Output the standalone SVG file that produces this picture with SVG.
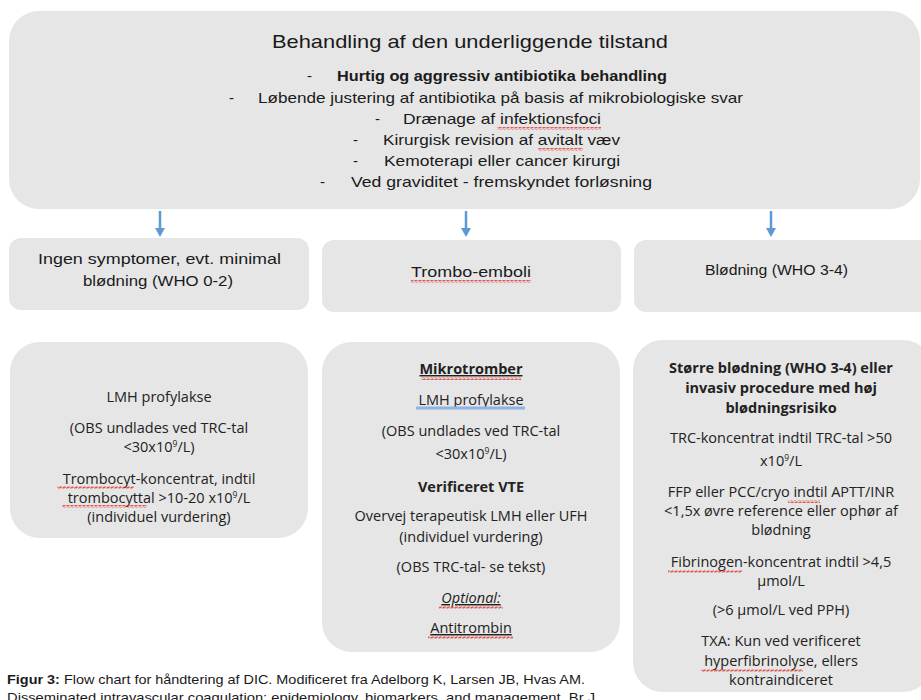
<svg xmlns="http://www.w3.org/2000/svg" width="921" height="700" viewBox="0 0 921 700">
<style>
.box{fill:#e6e6e6;}
.t{font-family:"Liberation Sans",Arial,sans-serif;fill:#1a1a1a;}
.o{font-family:"Open Sans","Noto Sans",sans-serif;font-size:14.5px;fill:#222;text-anchor:middle;}
.b{font-weight:bold;}
.sup{font-size:8.5px;}
.wv{fill:url(#wavy);}
.arrow{stroke:#5b9bd5;stroke-width:2.5;fill:none;}
</style>
<defs>
<pattern id="wavy" width="4" height="3" patternUnits="userSpaceOnUse">
<path d="M0 2.5 L1 0.5 L3 2.5 L4 0.5" stroke="#e0302a" stroke-width="0.8" fill="none"/>
</pattern>
</defs>

<g id="top">
<rect class="box" x="9" y="11" width="911" height="198" rx="30"/>
<text class="t" x="272" y="48" font-size="19" textLength="396" lengthAdjust="spacingAndGlyphs">Behandling af den underliggende tilstand</text>
<text class="t" x="307" y="81" font-size="15">-</text>
<text class="t b" x="337" y="81" font-size="15" textLength="330" lengthAdjust="spacingAndGlyphs">Hurtig og aggressiv antibiotika behandling</text>
<text class="t" x="229" y="103" font-size="15">-</text>
<text class="t" x="258" y="103" font-size="15" textLength="485" lengthAdjust="spacingAndGlyphs">Løbende justering af antibiotika på basis af mikrobiologiske svar</text>
<text class="t" x="375" y="124" font-size="15">-</text>
<text class="t" x="403" y="124" font-size="15" textLength="198" lengthAdjust="spacingAndGlyphs">Drænage af infektionsfoci</text>
<rect class="wv" x="497" y="127" width="104" height="3"/>
<text class="t" x="353" y="145" font-size="15">-</text>
<text class="t" x="383" y="145" font-size="15" textLength="237" lengthAdjust="spacingAndGlyphs">Kirurgisk revision af avitalt væv</text>
<rect class="wv" x="538" y="148" width="45" height="3"/>
<text class="t" x="353" y="166" font-size="15">-</text>
<text class="t" x="384" y="166" font-size="15" textLength="236" lengthAdjust="spacingAndGlyphs">Kemoterapi eller cancer kirurgi</text>
<text class="t" x="320" y="187" font-size="15">-</text>
<text class="t" x="351" y="187" font-size="15" textLength="301" lengthAdjust="spacingAndGlyphs">Ved graviditet - fremskyndet forløsning</text>
</g>

<g id="connectors">
<line class="arrow" x1="160" y1="211" x2="160" y2="229"/>
<polygon points="155,228 165,228 160,237" fill="#5b9bd5"/>
<line class="arrow" x1="466" y1="211" x2="466" y2="229"/>
<polygon points="461,228 471,228 466,237" fill="#5b9bd5"/>
<line class="arrow" x1="771" y1="211" x2="771" y2="229"/>
<polygon points="766,228 776,228 771,237" fill="#5b9bd5"/>
</g>

<g id="mid1">
<rect class="box" x="9" y="238" width="300" height="72" rx="12"/>
<text class="t" x="38" y="264" font-size="15" textLength="243" lengthAdjust="spacingAndGlyphs">Ingen symptomer, evt.  minimal</text>
<text class="t" x="83" y="286" font-size="15" textLength="150" lengthAdjust="spacingAndGlyphs">blødning (WHO 0-2)</text>
</g>
<g id="mid2">
<rect class="box" x="322" y="240" width="299" height="72" rx="12"/>
<text class="t" x="411" y="277" font-size="15" textLength="120" lengthAdjust="spacingAndGlyphs">Trombo-emboli</text>
<rect class="wv" x="411" y="280" width="120" height="3"/>
</g>
<g id="mid3">
<rect class="box" x="634" y="240" width="300" height="72" rx="12"/>
<text class="t" x="705" y="275" font-size="15" textLength="143" lengthAdjust="spacingAndGlyphs">Blødning (WHO 3-4)</text>
</g>

<g id="low1">
<rect class="box" x="10" y="342" width="298" height="196" rx="30"/>
<text class="o" x="159" y="402">LMH profylakse</text>
<text class="o" x="159" y="433">(OBS undlades ved TRC-tal</text>
<text class="o" x="159" y="452">&lt;30x10<tspan class="sup" dy="-5">9</tspan><tspan dy="5">/L)</tspan></text>
<text class="o" x="159" y="484">Trombocyt-koncentrat, indtil</text>
<rect class="wv" x="57" y="486" width="77" height="3"/>
<text class="o" x="159" y="503">trombocyttal &gt;10-20 x10<tspan class="sup" dy="-5">9</tspan><tspan dy="5">/L</tspan></text>
<rect class="wv" x="62" y="505" width="85" height="3"/>
<text class="o" x="159" y="522">(individuel vurdering)</text>
</g>

<g id="low2">
<rect class="box" x="322" y="342" width="298" height="310" rx="30"/>
<text class="o b" x="471" y="374" text-decoration="underline">Mikrotromber</text>
<rect class="wv" x="421" y="377" width="100" height="3"/>
<text class="o" x="471" y="405">LMH profylakse</text>
<line x1="416" y1="408" x2="525" y2="408" stroke="#8eb4e3" stroke-width="3"/>
<text class="o" x="471" y="436">(OBS undlades ved TRC-tal</text>
<text class="o" x="471" y="459">&lt;30x10<tspan class="sup" dy="-5">9</tspan><tspan dy="5">/L)</tspan></text>
<text class="o b" x="471" y="492">Verificeret VTE</text>
<text class="o" x="471" y="521">Overvej terapeutisk LMH eller UFH</text>
<text class="o" x="471" y="542">(individuel vurdering)</text>
<text class="o" x="471" y="572">(OBS TRC-tal-  se tekst)</text>
<text class="o" x="471" y="603" font-style="italic" text-decoration="underline">Optional:</text>
<rect class="wv" x="439" y="606" width="64" height="3"/>
<text class="o" x="471" y="633" text-decoration="underline">Antitrombin</text>
<rect class="wv" x="428" y="636" width="85" height="3"/>
</g>

<g id="low3">
<rect class="box" x="633" y="340" width="300" height="352" rx="30"/>
<text class="o b" x="781" y="373">Større blødning  (WHO 3-4) eller</text>
<text class="o b" x="781" y="393">invasiv  procedure med høj</text>
<text class="o b" x="781" y="413">blødningsrisiko</text>
<text class="o" x="781" y="443">TRC-koncentrat indtil TRC-tal  &gt;50</text>
<text class="o" x="781" y="466">x10<tspan class="sup" dy="-5">9</tspan><tspan dy="5">/L</tspan></text>
<text class="o" x="781" y="497">FFP eller PCC/cryo indtil APTT/INR</text>
<rect class="wv" x="788" y="500" width="32" height="3"/>
<text class="o" x="781" y="516">&lt;1,5x øvre reference eller ophør af</text>
<text class="o" x="781" y="535">blødning</text>
<text class="o" x="781" y="567">Fibrinogen-koncentrat indtil &gt;4,5</text>
<rect class="wv" x="668" y="570" width="74" height="3"/>
<text class="o" x="781" y="586">µmol/L</text>
<text class="o" x="781" y="615">(&gt;6 µmol/L ved PPH)</text>
<text class="o" x="781" y="646">TXA: Kun ved verificeret</text>
<text class="o" x="781" y="666">hyperfibrinolyse, ellers</text>
<rect class="wv" x="701" y="669" width="102" height="3"/>
<text class="o" x="781" y="685">kontraindiceret</text>
</g>

<text class="t" x="7" y="684" font-size="13" textLength="578" lengthAdjust="spacingAndGlyphs"><tspan class="b">Figur 3:</tspan> Flow chart for håndtering af DIC. Modificeret fra Adelborg K, Larsen JB, Hvas AM.</text>
<text class="t" x="7" y="702" font-size="13" textLength="588" lengthAdjust="spacingAndGlyphs">Disseminated intravascular coagulation: epidemiology, biomarkers, and management. Br J</text>
</svg>
